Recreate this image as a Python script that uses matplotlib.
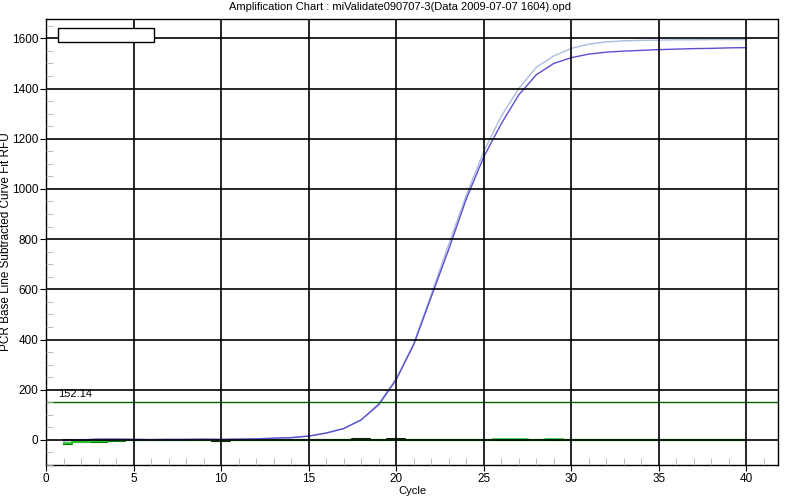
import numpy as np
import matplotlib
matplotlib.use('Agg')
import matplotlib.pyplot as plt
from matplotlib.ticker import MultipleLocator
from matplotlib.patches import Rectangle

plt.rcParams['font.family'] = ['Liberation Sans', 'DejaVu Sans']

cycles = np.arange(1, 41)

# two amplified wells (RFU per cycle)
well_dark = [-3, 0, 3, 3, 2, 1, 2, 2, 3, 2,
             3, 4, 7, 9, 15, 27, 45, 80, 140, 240,
             380, 570, 760, 960, 1128, 1260, 1375, 1455, 1500, 1523,
             1537, 1545, 1549, 1552, 1555, 1557, 1559, 1560, 1562, 1563]
well_light = [-2, 0, 2, 3, 2, 1, 2, 2, 2, 2,
              3, 4, 6, 9, 16, 28, 46, 80, 145, 245,
              385, 580, 780, 975, 1150, 1290, 1400, 1485, 1530, 1560,
              1577, 1586, 1590, 1592, 1593, 1594, 1594, 1595, 1595, 1595]

# flat negative wells
neg_bright = [-12, -8, -5, -2, 0, 0, 0, 0, 0, 0,
              0, 0, 0, 0, 0, 0, 0, 0, 0, 0,
              0, 0, 0, 0, 0, 3, 3, 0, 3, 0,
              0, 0, 0, 0, 0, 0, 0, 0, 0, 0]
neg_dark = [-15, -10, -8, -3, 0, 0, 1, -2, 1, 0,
            1, 0, 0, 0, 1, 0, 0, 0, 0, 0,
            0, 0, 1, 0, 1, 0, 0, 1, 0, 1,
            1, 1, 0, 0, 0, 0, 0, 0, 0, 0]
neg_black = [0, 0, 0, 0, 0, 0, 0, 0, 1, -3,
             1, 0, 0, 0, 0, 0, 0, 2, 0, 2,
             0, 1, 0, 0, 0, 0, 0, 0, -1, 1,
             1, 0, 0, 0, 0, 0, 0, 0, 0, 0]

threshold = 152.14

fig = plt.figure(figsize=(8, 5), dpi=100)
ax = fig.add_axes([0.0575, 0.07, 0.915, 0.892])

ax.plot(cycles, neg_black, color='#102010', lw=1.5, drawstyle='steps-mid')
ax.plot(cycles, neg_dark, color='#008000', lw=1.5, drawstyle='steps-mid')
ax.plot(cycles, neg_bright, color='#33cc33', lw=1.2, drawstyle='steps-mid')
ax.plot(cycles, well_light, color='#a9bedf', lw=1.0)
ax.plot(cycles, well_dark, color='#5a4fcf', lw=1.0)

ax.axhline(threshold, color='#006600', lw=1.0)
ax.text(0.7, threshold + 12, '%.2f' % threshold, fontsize=8, va='bottom')

ax.set_xlim(0, 41.8)
ax.set_ylim(-100, 1677)
ax.xaxis.set_major_locator(MultipleLocator(5))
ax.xaxis.set_minor_locator(MultipleLocator(1))
ax.yaxis.set_major_locator(MultipleLocator(200))
ax.yaxis.set_minor_locator(MultipleLocator(50))
ax.grid(True, which='major', color='black', lw=1.2)
ax.set_axisbelow(False)

ax.tick_params(which='major', direction='out', length=4, color='black',
               labelsize=8.5, pad=1.5)
ax.tick_params(which='minor', direction='in', length=5, color='#b0b0b0')
for s in ax.spines.values():
    s.set_color('black')
    s.set_linewidth(1.0)

ax.set_xlabel('Cycle', fontsize=8, labelpad=1)
ax.set_ylabel('PCR Base Line Subtracted Curve Fit RFU', fontsize=8.5)
ax.yaxis.set_label_coords(-0.046, 0.5)
fig.suptitle('Amplification Chart : miValidate090707-3(Data 2009-07-07 1604).opd',
             fontsize=8, y=0.995)

# empty legend box
ax.add_patch(Rectangle((0.0164, 0.948), 0.131, 0.032, transform=ax.transAxes,
                       facecolor='white', edgecolor='black', lw=1.0, zorder=5))

fig.savefig('out.png')
